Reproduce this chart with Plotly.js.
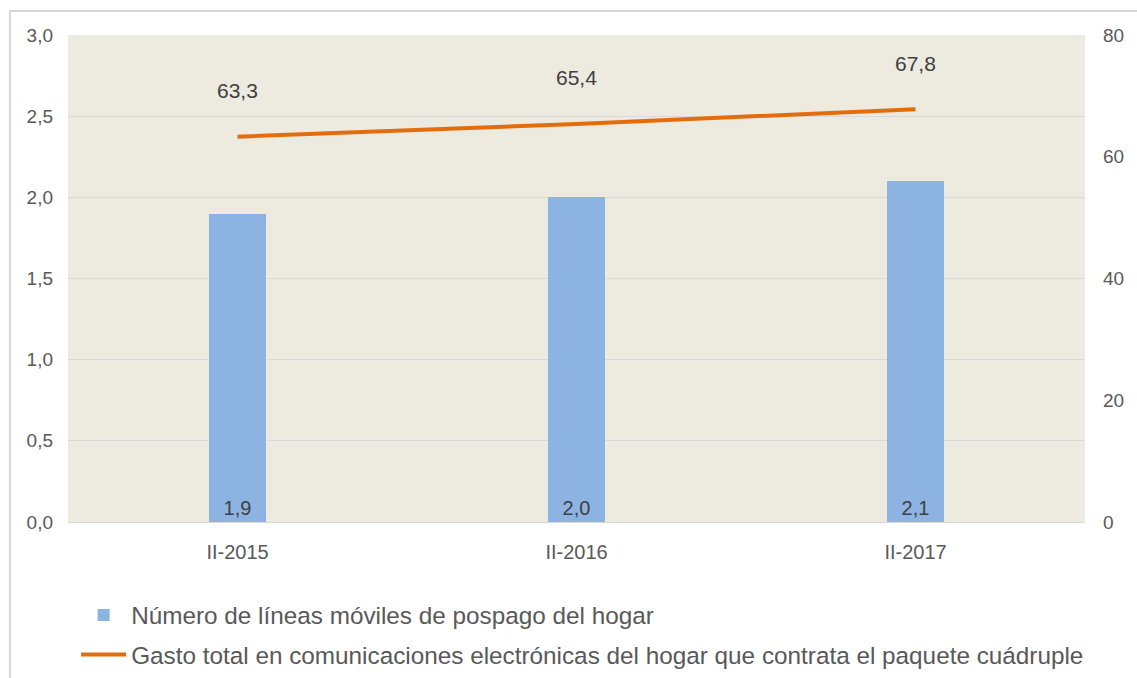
<!DOCTYPE html>
<html>
<head>
<meta charset="utf-8">
<script src="https://cdn.plot.ly/plotly-3.0.1.min.js"></script>
<style>
  html, body { margin: 0; padding: 0; background: #fff; overflow: hidden; }
  #frame { position: absolute; left: 9px; top: 10px; width: 1300px; height: 900px;
           border: 2px solid #d9d9d9; box-sizing: border-box; }
  #chart { position: absolute; left: 0; top: 0; width: 1137px; height: 678px; }
</style>
</head>
<body>
<div id="frame"></div>
<div id="chart"></div>
<script>
const periods = ['II-2015', 'II-2016', 'II-2017'];
const lineasPospago = [1.9, 2.0, 2.1];
const gastoCuadruple = [63.3, 65.4, 67.8];
const barName = 'Número de líneas móviles de pospago del hogar';
const lineName = 'Gasto total en comunicaciones electrónicas del hogar que contrata el paquete cuádruple';

const font = 'Liberation Sans, Arial, sans-serif';

const data = [
  {
    type: 'bar',
    name: barName,
    legendgroup: 'a',
    x: periods,
    y: lineasPospago,
    width: 0.17,
    marker: { color: '#8db3e2' },
    text: lineasPospago.map(v => v.toFixed(1).replace('.', ',')),
    textposition: 'inside',
    insidetextanchor: 'start',
    textfont: { family: font, size: 20, color: '#404040' },
    hoverinfo: 'skip'
  },
  {
    type: 'scatter',
    mode: 'lines',
    name: lineName,
    legendgroup: 'b',
    x: periods,
    y: gastoCuadruple,
    yaxis: 'y2',
    line: { color: '#e46c0a', width: 4 },
    hoverinfo: 'skip'
  }
];

const annotations = periods.map((p, i) => ({
  x: p,
  y: gastoCuadruple[i],
  xref: 'x',
  yref: 'y2',
  text: gastoCuadruple[i].toFixed(1).replace('.', ','),
  showarrow: false,
  yshift: 46,
  font: { family: font, size: 21, color: '#404040' }
}));

const layout = {
  width: 1137,
  height: 678,
  margin: { l: 68, r: 52, t: 35, b: 156, autoexpand: false },
  paper_bgcolor: 'rgba(0,0,0,0)',
  plot_bgcolor: '#edeae0',
  separators: ',.',
  showlegend: true,
  bargap: 0,
  font: { family: font, color: '#595959' },
  xaxis: {
    type: 'category',
    showgrid: false,
    showline: true,
    linecolor: '#d9d9d9',
    linewidth: 1,
    ticks: '',
    ticklabelstandoff: 12,
    tickfont: { family: font, size: 20, color: '#595959' },
    fixedrange: true
  },
  yaxis: {
    range: [0, 3],
    dtick: 0.5,
    tickformat: '.1f',
    showgrid: true,
    gridcolor: '#d9d9d9',
    zeroline: false,
    showline: false,
    ticks: '',
    ticklabelstandoff: 14,
    tickfont: { family: font, size: 19, color: '#595959' },
    fixedrange: true
  },
  yaxis2: {
    overlaying: 'y',
    side: 'right',
    range: [0, 80],
    dtick: 20,
    showgrid: false,
    zeroline: false,
    showline: false,
    ticks: '',
    ticklabelstandoff: 17,
    tickfont: { family: font, size: 19, color: '#595959' },
    fixedrange: true
  },
  legend: {
    orientation: 'v',
    traceorder: 'grouped',
    x: 0.008,
    xanchor: 'left',
    y: -0.145,
    yanchor: 'top',
    font: { family: font, size: 24.3, color: '#595959' },
    itemwidth: 45,
    tracegroupgap: 5,
    bgcolor: 'rgba(0,0,0,0)'
  },
  annotations: annotations
};

Plotly.newPlot('chart', data, layout, { displayModeBar: false, staticPlot: true });
</script>
</body>
</html>
